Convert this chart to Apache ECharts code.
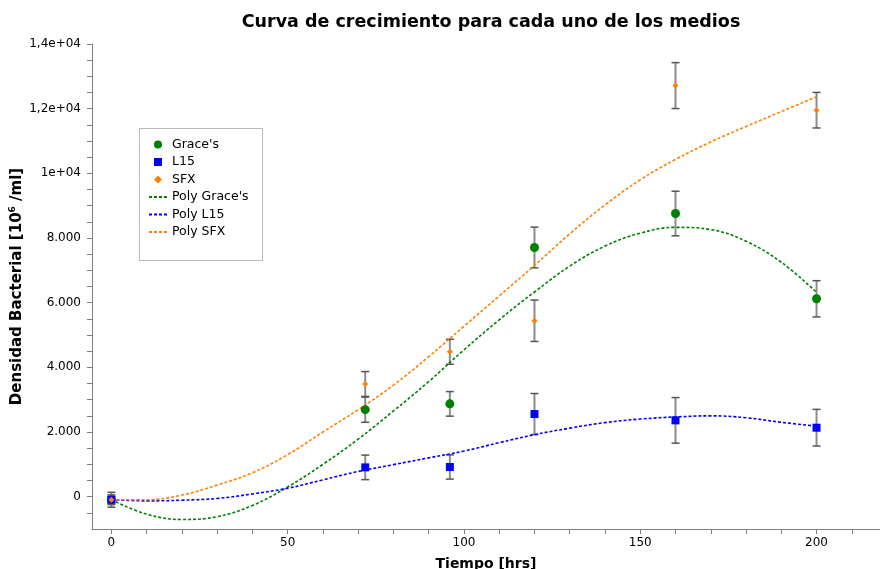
<!DOCTYPE html>
<html>
<head>
<meta charset="utf-8">
<script src="https://cdn.jsdelivr.net/npm/echarts@6/dist/echarts.min.js"></script>
<style>html,body{margin:0;padding:0;background:#fff}#c{width:880px;height:569px}</style>
</head>
<body>
<div id="c"></div>
<script>
// ---- data ----
const timeHrs = [0, 72, 96, 120, 160, 200];
const gracesY   = [-95, 2690, 2870, 7706, 8757, 6120];
const gracesErr = [230, 390, 380, 630, 690, 560];
const l15Y      = [-95, 906, 918, 2555, 2360, 2133];
const l15Err    = [150, 380, 375, 635, 705, 567];
const sfxY      = [-95, 3484, 4482, 5440, 12714, 11953];
const sfxErr    = [100, 385, 387, 640, 710, 550];

const polyX       = [0, 10, 20, 30, 40, 50, 60, 70, 80, 90, 100, 110, 120, 130, 140, 150, 160, 170, 180, 190, 200];
const polyGraces  = [-93, -540, -705, -620, -270, 300, 1000, 1780, 2650, 3560, 4540, 5470, 6330, 7130, 7750, 8150, 8330, 8260, 7900, 7250, 6320];
const polyL15     = [-93, -130, -110, -55, 85, 260, 520, 780, 990, 1200, 1410, 1670, 1917, 2120, 2290, 2400, 2465, 2500, 2440, 2300, 2180];
const polySFX     = [-93, -95, 50, 360, 740, 1300, 2000, 2690, 3450, 4330, 5270, 6210, 7150, 8130, 9020, 9800, 10430, 10970, 11450, 11910, 12370];

const xTickValues  = [0, 10, 20, 30, 40, 50, 60, 70, 80, 90, 100, 110, 120, 130, 140, 150, 160, 170, 180, 190, 200, 210];
const xLabelValues = [0, 50, 100, 150, 200];
const yTickValues  = [-500, 0, 500, 1000, 1500, 2000, 2500, 3000, 3500, 4000, 4500, 5000, 5500, 6000, 6500, 7000, 7500, 8000, 8500, 9000, 9500, 10000, 10500, 11000, 11500, 12000, 12500, 13000, 13500, 14000];
const yLabelValues = [0, 2000, 4000, 6000, 8000, 10000, 12000, 14000];

const seriesNames = ["Grace's", "L15", "SFX", "Poly Grace's", "Poly L15", "Poly SFX"];
const titleText = 'Curva de crecimiento para cada uno de los medios';

// ---- helpers ----
const green = '#008000', blue = '#0000ff', orange = '#ff8000';
const FONT = 'DejaVu Sans';

function fmtY(v) {
  if (v >= 10000) {
    const m = v / 10000;
    const s = (Math.abs(m - Math.round(m)) < 1e-9) ? String(Math.round(m)) : m.toFixed(1).replace('.', ',');
    return s + 'e+04';
  }
  if (v === 0) return '0';
  const th = Math.floor(v / 1000), rest = v % 1000;
  return th + '.' + String(rest).padStart(3, '0');
}

function pts(xs, ys) { return xs.map((x, i) => [x, ys[i]]); }
function errData(xs, ys, es) { return xs.map((x, i) => [x, ys[i] - es[i], ys[i] + es[i]]); }

function errorSeries(data) {
  return {
    type: 'custom',
    z: 2,
    silent: true,
    data: data,
    encode: { x: 0, y: [1, 2] },
    renderItem: function (params, api) {
      const x = api.value(0);
      const lo = api.coord([x, api.value(1)]);
      const hi = api.coord([x, api.value(2)]);
      const w = 4;
      return {
        type: 'group',
        children: [
          { type: 'line', shape: { x1: hi[0], y1: hi[1], x2: lo[0], y2: lo[1] }, style: { stroke: '#8c8c8c', lineWidth: 2 } },
          { type: 'line', shape: { x1: hi[0] - w, y1: hi[1], x2: hi[0] + w, y2: hi[1] }, style: { stroke: '#555', lineWidth: 1.5 } },
          { type: 'line', shape: { x1: lo[0] - w, y1: lo[1], x2: lo[0] + w, y2: lo[1] }, style: { stroke: '#555', lineWidth: 1.5 } }
        ]
      };
    }
  };
}

function polySeries(name, ys, color) {
  return {
    name: name, type: 'line', data: pts(polyX, ys), smooth: 0.4,
    symbol: 'none', z: 3, silent: true,
    lineStyle: { color: color, width: 1.6, type: [3, 2] },
    itemStyle: { color: color }
  };
}

function scatterSeries(name, ys, color, symbol, size) {
  return {
    name: name, type: 'scatter', data: pts(timeHrs, ys),
    symbol: symbol, symbolSize: size, z: 5,
    itemStyle: { color: color, opacity: 1 }
  };
}

const chart = echarts.init(document.getElementById('c'), null, { renderer: 'canvas' });
chart.setOption({
  animation: false,
  backgroundColor: '#fff',
  title: {
    text: titleText, left: 486, top: 8, textAlign: 'center',
    textStyle: { fontFamily: FONT, fontSize: 17.5, fontWeight: 'bold', color: '#000' }
  },
  legend: {
    orient: 'vertical', left: 143, top: 133, itemGap: 4.5, itemWidth: 18, itemHeight: 8,
    symbolKeepAspect: true,
    data: [
      { name: seriesNames[0], icon: 'circle' },
      { name: seriesNames[1], icon: 'path://M0,0L10,0L10,10L0,10Z' },
      { name: seriesNames[2], icon: 'path://M5,1.5L8.5,5L5,8.5L1.5,5Z' },
      { name: seriesNames[3], itemStyle: { opacity: 0 } },
      { name: seriesNames[4], itemStyle: { opacity: 0 } },
      { name: seriesNames[5], itemStyle: { opacity: 0 } }
    ],
    textStyle: { fontFamily: FONT, fontSize: 12.5, color: '#000' },
    selectedMode: false
  },
  graphic: [{
    type: 'rect', silent: true, z: 100,
    shape: { x: 139.5, y: 128.5, width: 123, height: 132 },
    style: { fill: 'none', stroke: '#777', lineWidth: 1, lineDash: [1, 1] }
  }],
  grid: { left: 92, right: 0, top: 44, bottom: 40, containLabel: false, outerBoundsMode: 'none' },
  xAxis: {
    type: 'value', min: -5.5, max: 218,
    name: 'Tiempo [hrs]', nameLocation: 'middle', nameGap: 28, nameMoveOverlap: false,
    nameTextStyle: { fontFamily: FONT, fontSize: 14, fontWeight: 'bold', color: '#000' },
    axisLine: { onZero: false, lineStyle: { color: '#808080', width: 1 } },
    axisTick: { show: true, length: 5, customValues: xTickValues, lineStyle: { color: '#808080' } },
    minorTick: { show: false },
    axisLabel: { customValues: xLabelValues, margin: 8, fontFamily: FONT, fontSize: 12, color: '#000' },
    splitLine: { show: false }
  },
  yAxis: {
    type: 'value', min: -1000, max: 14000,
    name: '{a|Densidad Bacterial [10}{s|6}{a| /ml]}', nameLocation: 'middle', nameGap: 66, nameRotate: 90,
    nameMoveOverlap: false,
    nameTextStyle: {
      rich: {
        a: { fontFamily: FONT, fontSize: 15, fontWeight: 'bold', color: '#000' },
        s: { fontFamily: FONT, fontSize: 9, fontWeight: 'bold', color: '#000', verticalAlign: 'top', padding: [0, 0, 9, 0] }
      }
    },
    axisLine: { show: true, onZero: false, lineStyle: { color: '#808080', width: 1 } },
    axisTick: { show: true, length: 5, customValues: yTickValues, lineStyle: { color: '#808080' } },
    minorTick: { show: false },
    axisLabel: { customValues: yLabelValues, margin: 11, fontFamily: FONT, fontSize: 12, color: '#000', formatter: fmtY },
    splitLine: { show: false }
  },
  series: [
    errorSeries(errData(timeHrs, gracesY, gracesErr)),
    errorSeries(errData(timeHrs, l15Y, l15Err)),
    errorSeries(errData(timeHrs, sfxY, sfxErr)),
    scatterSeries(seriesNames[0], gracesY, green, 'circle', 9),
    scatterSeries(seriesNames[1], l15Y, blue, 'rect', 8),
    scatterSeries(seriesNames[2], sfxY, orange, 'diamond', 6),
    polySeries(seriesNames[3], polyGraces, green),
    polySeries(seriesNames[4], polyL15, blue),
    polySeries(seriesNames[5], polySFX, orange)
  ]
});
</script>
</body>
</html>
